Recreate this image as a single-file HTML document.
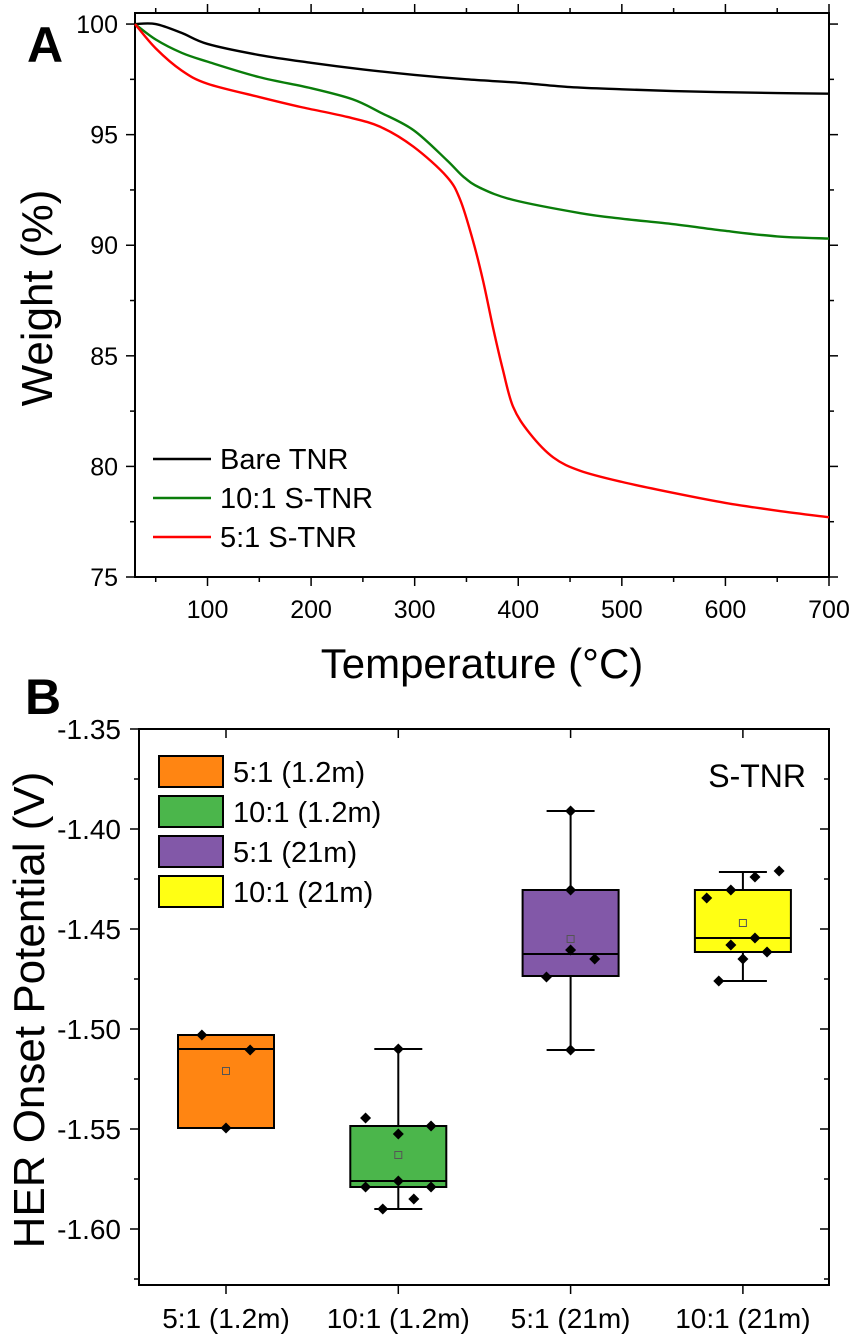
<!DOCTYPE html>
<html><head><meta charset="utf-8"><style>
html,body{margin:0;padding:0;background:#fff}
svg{display:block;font-family:"Liberation Sans",Arial,sans-serif}
</style></head><body>
<svg id="fig" width="854" height="1337" viewBox="0 0 854 1337"></svg>
<script>
// ---- Panel A data ----
const tgaBareT=[30,50,75,100,150,200,250,300,350,400,450,500,550,600,650,700];
const tgaBareW=[100,100,99.6,99.1,98.6,98.25,97.95,97.7,97.5,97.35,97.15,97.05,96.97,96.92,96.88,96.85];
const tga10T=[30,50,75,100,150,200,240,267,299,331,347,363,395,460,500,550,600,650,700];
const tga10W=[100,99.3,98.7,98.3,97.6,97.1,96.6,96.0,95.2,93.85,93.1,92.6,92.05,91.45,91.2,90.95,90.65,90.4,90.3];
const tga5T=[30,50,75,100,150,190,235,267,299,331,344,356,366,376,385,395,411,434,460,500,550,600,650,700];
const tga5W=[100,98.9,97.9,97.3,96.7,96.25,95.8,95.35,94.45,93.1,92.05,90.25,88.4,86.2,84.4,82.7,81.5,80.4,79.8,79.3,78.8,78.35,78.0,77.7];
const aXTicks=[100,200,300,400,500,600,700];
const aYTicks=[75,80,85,90,95,100];
// ---- Panel B data ----
const bCats=["5:1 (1.2m)","10:1 (1.2m)","5:1 (21m)","10:1 (21m)"];
const bColors=["#ff8512","#4bb64b","#8258a8","#ffff14"];
const bQ1=[-1.5495,-1.579,-1.4735,-1.4615];
const bQ3=[-1.503,-1.5485,-1.4305,-1.4305];
const bMed=[-1.510,-1.576,-1.4625,-1.4545];
const bMean=[-1.521,-1.563,-1.455,-1.447];
const bWhiskLo=[null,-1.590,-1.5105,-1.476];
const bWhiskHi=[null,-1.510,-1.391,-1.4215];
const bPtsCat=[0,0,0,1,1,1,1,1,1,1,1,1,2,2,2,2,2,2,3,3,3,3,3,3,3,3,3];
const bPtsVal=[-1.503,-1.5105,-1.5495,-1.5445,-1.5525,-1.5485,-1.579,-1.576,-1.579,-1.585,-1.590,-1.510,-1.391,-1.4305,-1.4605,-1.465,-1.474,-1.5105,-1.4345,-1.4305,-1.424,-1.421,-1.458,-1.4545,-1.4615,-1.465,-1.476];
const bPtsJit=[-0.14,0.14,0,-0.19,0,0.19,-0.19,0,0.19,0.09,-0.09,0,0,0,0,0.14,-0.14,0,-0.21,-0.07,0.07,0.21,-0.07,0.07,0.14,0,-0.14];
const bYTicks=[-1.35,-1.40,-1.45,-1.50,-1.55,-1.60];

const NS="http://www.w3.org/2000/svg";
const svg=document.getElementById('fig');
function el(tag,attrs,parent){const e=document.createElementNS(NS,tag);for(const k in attrs)e.setAttribute(k,attrs[k]);(parent||svg).appendChild(e);return e;}
function txt(s,attrs){const e=el('text',attrs);e.textContent=s;return e;}

// ===== Panel A =====
const AL=135,AR=829,AT=13,AB=577;
const ax=t=>AL+(t-30)/(700-30)*(AR-AL);
const ay=w=>AT+(100.5-w)/(100.5-75)*(AB-AT);
function smoothPath(xs,ys){
  const p=xs.map((x,i)=>[ax(x),ay(ys[i])]);
  let d=`M${p[0][0]},${p[0][1]}`;
  for(let i=0;i<p.length-1;i++){
    const p0=p[Math.max(0,i-1)],p1=p[i],p2=p[i+1],p3=p[Math.min(p.length-1,i+2)];
    const c1=[p1[0]+(p2[0]-p0[0])/6,p1[1]+(p2[1]-p0[1])/6];
    const c2=[p2[0]-(p3[0]-p1[0])/6,p2[1]-(p3[1]-p1[1])/6];
    d+=`C${c1[0]},${c1[1]} ${c2[0]},${c2[1]} ${p2[0]},${p2[1]}`;
  }
  return d;
}
const fA=el('rect',{x:AL,y:AT,width:AR-AL,height:AB-AT,fill:'none',stroke:'#000','stroke-width':2});


for(let t=50;t<=700;t+=50){
  const major=t%100===0, len=major?9:5;
  const x=ax(t);
  el('line',{x1:x,y1:AB,x2:x,y2:AB+len,stroke:'#000','stroke-width':1.5});
  el('line',{x1:x,y1:AT,x2:x,y2:AT-len,stroke:'#000','stroke-width':1.5});
}
aXTicks.forEach(t=>{const e=txt(String(t),{x:ax(t),y:618,'font-size':25,'text-anchor':'middle'});

});
for(let w=75;w<=100;w+=2.5){
  const major=w%5===0,len=major?9:5,y=ay(w);
  el('line',{x1:AL,y1:y,x2:AL-len,y2:y,stroke:'#000','stroke-width':1.5});
  el('line',{x1:AR,y1:y,x2:AR+len,y2:y,stroke:'#000','stroke-width':1.5});
}
aYTicks.forEach(w=>{const e=txt(String(w),{x:118,y:ay(w)+9,'font-size':25,'text-anchor':'end'});

});
const series=[[tgaBareT,tgaBareW,'#000','bare-tnr-line'],[tga10T,tga10W,'#0a7d0a','10-1-s-tnr-line'],[tga5T,tga5W,'#ff0000','5-1-s-tnr-line']];
series.forEach(s=>{const e=el('path',{d:smoothPath(s[0],s[1]),fill:'none',stroke:s[2],'stroke-width':2.4});

});
const legA=[['Bare TNR','#000'],['10:1 S-TNR','#0a7d0a'],['5:1 S-TNR','#ff0000']];
legA.forEach((l,i)=>{const y=459+i*39;
el('line',{x1:153,y1:y,x2:211,y2:y,stroke:l[1],'stroke-width':2.4});
const e=txt(l[0],{x:220,y:y+10,'font-size':29});

});
let t1=txt('A',{x:27,y:62,'font-size':50,'font-weight':'bold'});


let t2=txt('Temperature (°C)',{x:482,y:678,'font-size':42,'text-anchor':'middle'});


let t3=txt('Weight (%)',{x:0,y:0,'font-size':44,'text-anchor':'middle',transform:'translate(52,298) rotate(-90)'});



// ===== Panel B =====
const BL=139,BR=829,BT=729,BB=1285;
const by=v=>BT+(-1.35-v)/0.05*100;
const bx=i=>226+i*172.3;
const fB=el('rect',{x:BL,y:BT,width:BR-BL,height:BB-BT,fill:'none',stroke:'#000','stroke-width':2});


for(let k=0;k<=11;k++){
  const v=-1.35-k*0.025, y=by(v); if(y>BB)break;
  const len=k%2===0?9:5;
  el('line',{x1:BL,y1:y,x2:BL-len,y2:y,stroke:'#000','stroke-width':1.5});
  el('line',{x1:BR,y1:y,x2:BR-len,y2:y,stroke:'#000','stroke-width':1.5});
}
bYTicks.forEach(v=>{const e=txt(v.toFixed(2),{x:121,y:by(v)+10,'font-size':28,'text-anchor':'end'});

});
bCats.forEach((c,i)=>{const x=bx(i);
el('line',{x1:x,y1:BB,x2:x,y2:BB+9,stroke:'#000','stroke-width':1.5});
el('line',{x1:x,y1:BT,x2:x,y2:BT+9,stroke:'#000','stroke-width':1.5});
const e=txt(c,{x:x,y:1328,'font-size':28,'text-anchor':'middle'});

});
const hw=48;
bCats.forEach((c,i)=>{const x=bx(i);
if(bWhiskHi[i]!==null){
  el('line',{x1:x,y1:by(bWhiskHi[i]),x2:x,y2:by(bQ3[i]),stroke:'#000','stroke-width':2});
  el('line',{x1:x,y1:by(bWhiskLo[i]),x2:x,y2:by(bQ1[i]),stroke:'#000','stroke-width':2});
  el('line',{x1:x-24,y1:by(bWhiskHi[i]),x2:x+24,y2:by(bWhiskHi[i]),stroke:'#000','stroke-width':2});
  el('line',{x1:x-24,y1:by(bWhiskLo[i]),x2:x+24,y2:by(bWhiskLo[i]),stroke:'#000','stroke-width':2});
}
const b=el('rect',{x:x-hw,y:by(bQ3[i]),width:2*hw,height:by(bQ1[i])-by(bQ3[i]),fill:bColors[i],stroke:'#000','stroke-width':2});


el('line',{x1:x-hw,y1:by(bMed[i]),x2:x+hw,y2:by(bMed[i]),stroke:'#000','stroke-width':2});
el('rect',{x:x-3.5,y:by(bMean[i])-3.5,width:7,height:7,fill:'none',stroke:'#555','stroke-width':1});
});
bPtsVal.forEach((v,k)=>{const x=bx(bPtsCat[k])+bPtsJit[k]*172.3,y=by(v);
const p=el('path',{d:`M${x},${y-5.5}L${x+5.5},${y}L${x},${y+5.5}L${x-5.5},${y}Z`,fill:'#000'});

});
bCats.forEach((c,i)=>{const y=756+i*40;
el('rect',{x:159,y:y,width:64,height:31,fill:bColors[i],stroke:'#000','stroke-width':2});
const e=txt(c,{x:233,y:y+26,'font-size':29});

});
let t4=txt('S-TNR',{x:806,y:787,'font-size':32,'text-anchor':'end'});


let t5=txt('B',{x:25,y:714,'font-size':50,'font-weight':'bold'});


let t6=txt('HER Onset Potential (V)',{x:0,y:0,'font-size':44,'text-anchor':'middle',transform:'translate(44,1010) rotate(-90)'});


</script>
</body></html>
